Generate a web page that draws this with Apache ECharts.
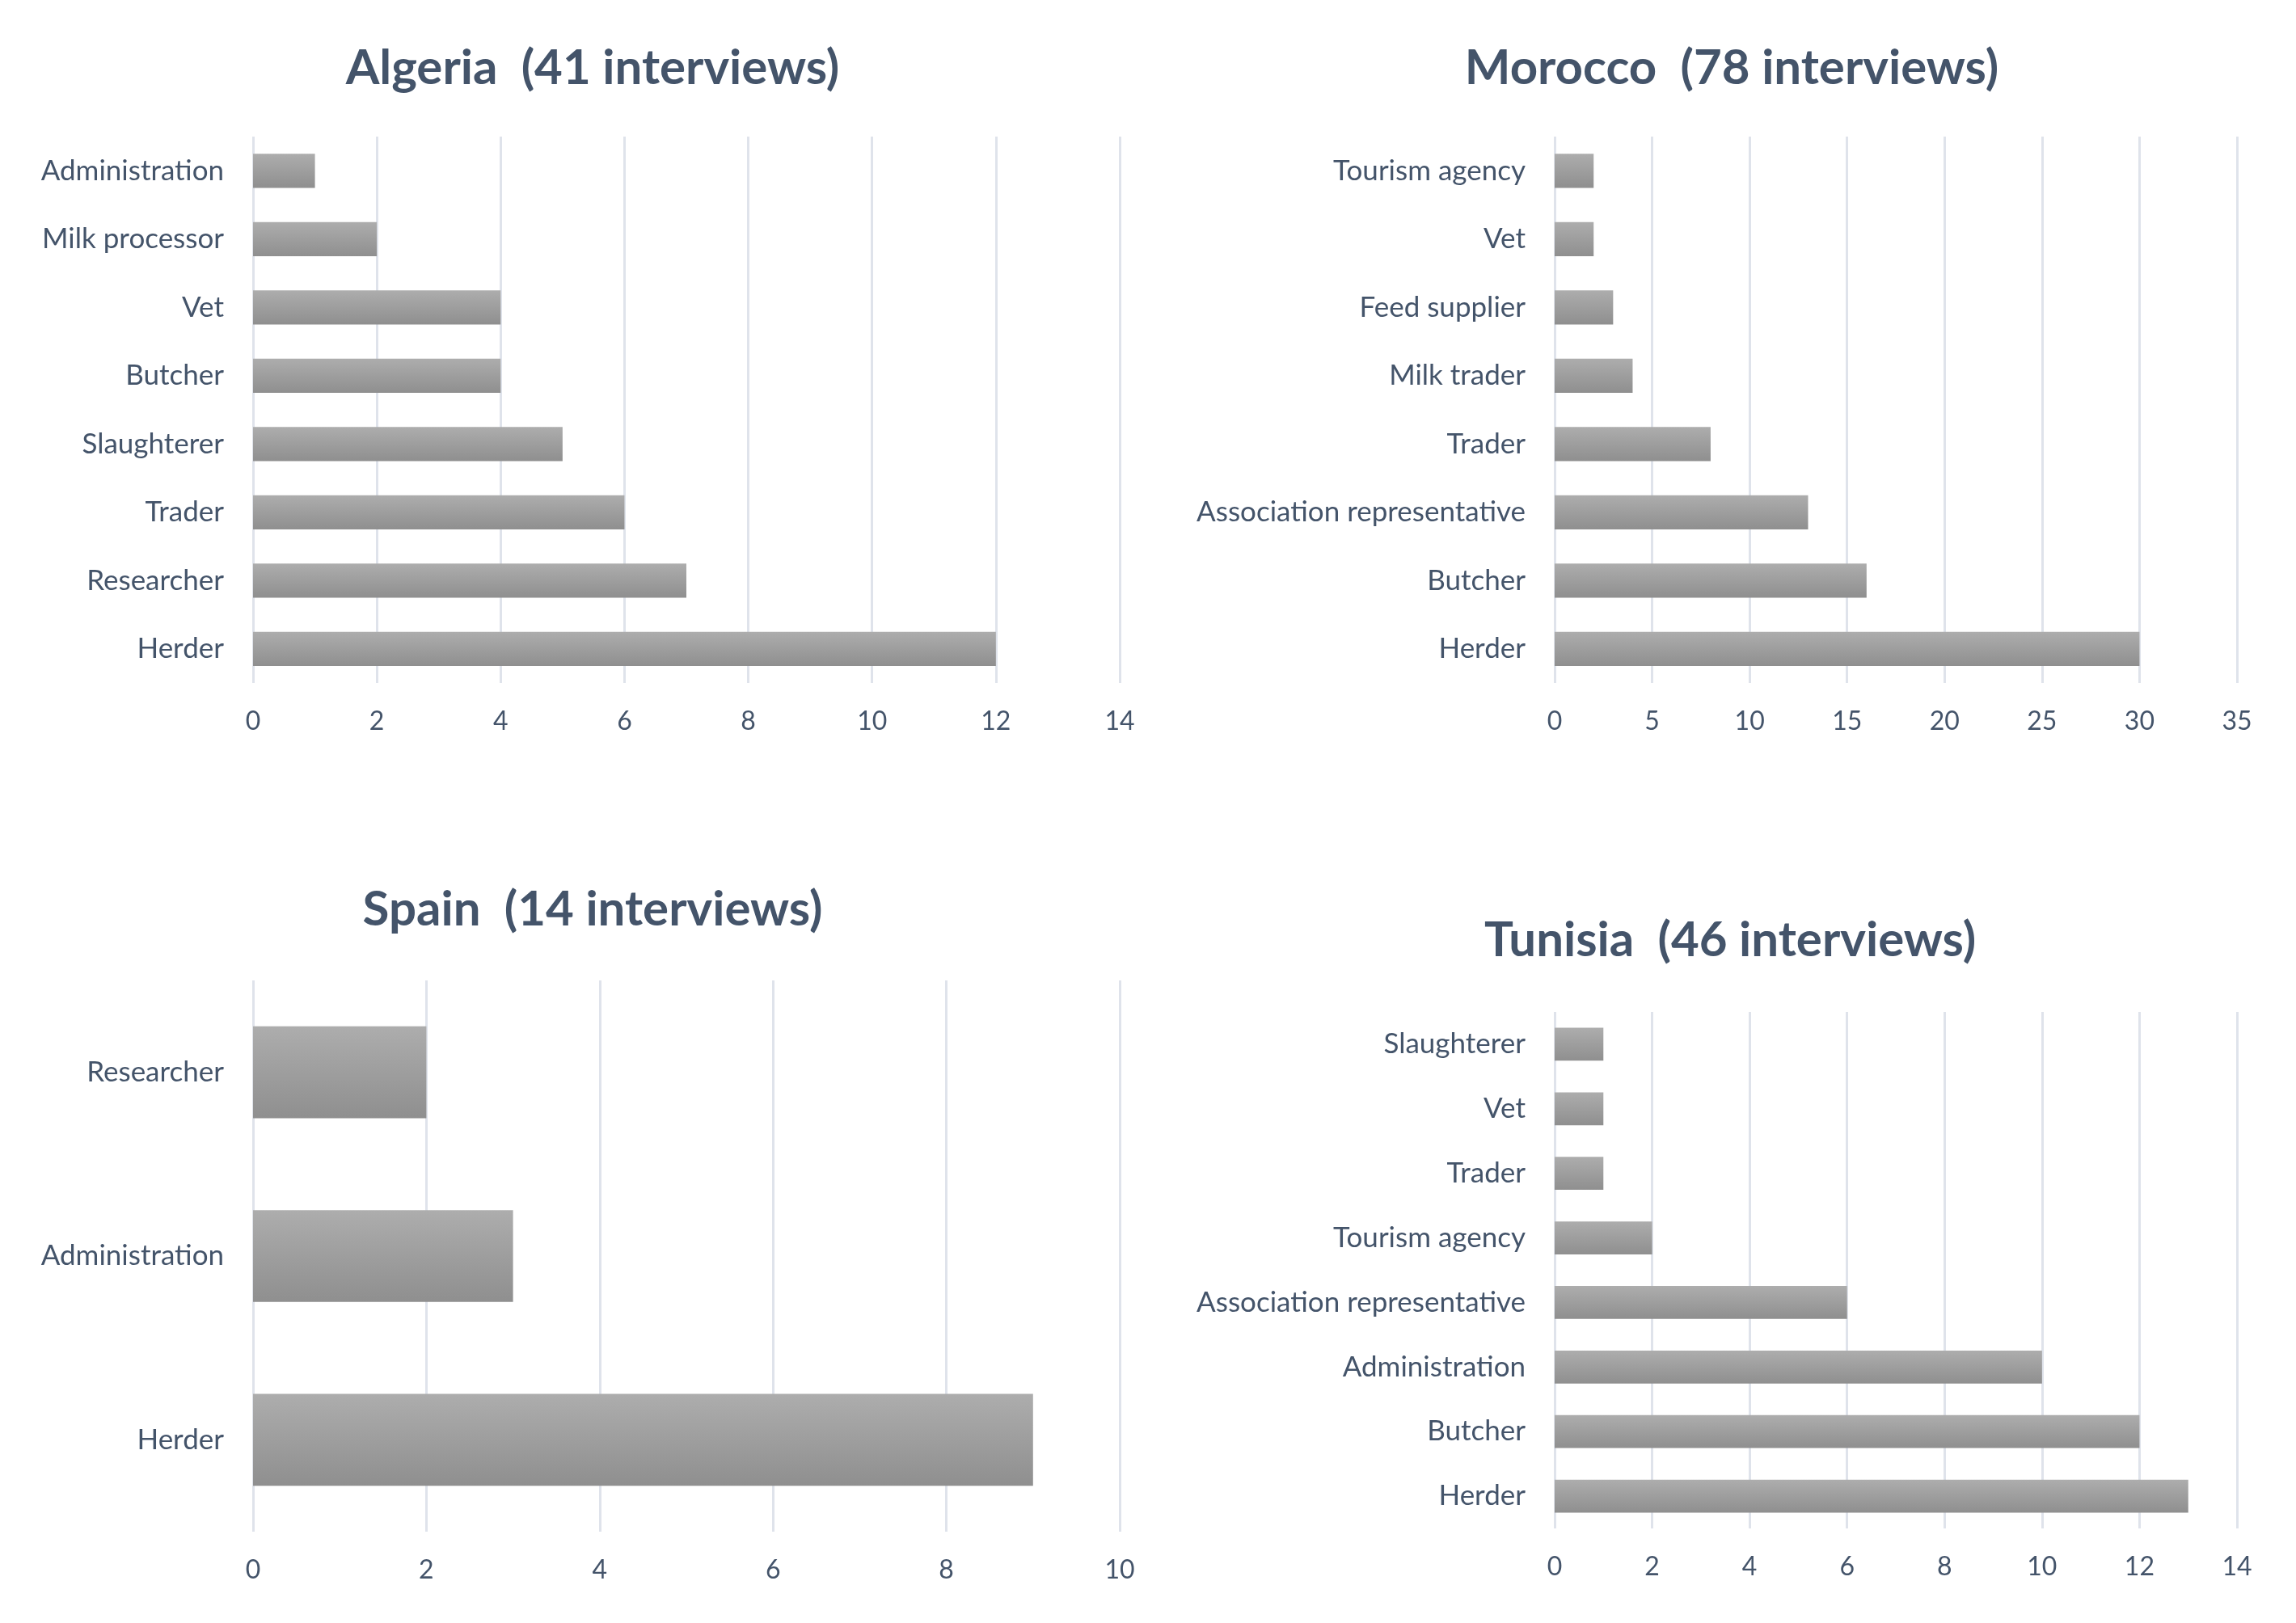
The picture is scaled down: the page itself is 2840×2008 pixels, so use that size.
<!DOCTYPE html>
<html>
<head>
<meta charset="utf-8">
<script src="https://cdn.jsdelivr.net/npm/echarts@6/dist/echarts.min.js"></script>
<style>
  html, body { margin: 0; padding: 0; background: #fff; }
  #chart { width: 2840px; height: 2008px; }
</style>
</head>
<body>
<div id="chart"></div>
<script>
  // categories listed top to bottom, as in the picture
  const algeriaCats = ['Administration', 'Milk processor', 'Vet', 'Butcher', 'Slaughterer', 'Trader', 'Researcher', 'Herder']
  const algeriaVals = [1, 2, 4, 4, 5, 6, 7, 12]

  const moroccoCats = ['Tourism agency', 'Vet', 'Feed supplier', 'Milk trader', 'Trader', 'Association representative', 'Butcher', 'Herder']
  const moroccoVals = [2, 2, 3, 4, 8, 13, 16, 30]

  const spainCats = ['Researcher', 'Administration', 'Herder']
  const spainVals = [2, 3, 9]

  const tunisiaCats = ['Slaughterer', 'Vet', 'Trader', 'Tourism agency', 'Association representative', 'Administration', 'Butcher', 'Herder']
  const tunisiaVals = [1, 1, 1, 2, 6, 10, 12, 13]

  const titles = ['Algeria  (41 interviews)', 'Morocco  (78 interviews)', 'Spain  (14 interviews)', 'Tunisia  (46 interviews)']
  const axisMax = [14, 35, 10, 14]
  const axisStep = [2, 5, 2, 2]

  const font = 'Lato, "Open Sans", sans-serif'
  const textColor = '#44546a'
  const gridColor = '#dfe3eb'

  const barFill = new echarts.graphic.LinearGradient(0, 0, 0, 1, [
    { offset: 0, color: '#adadad' },
    { offset: 1, color: '#8f8f8f' }
  ])

  const panels = [
    { cats: algeriaCats, vals: algeriaVals, grid: { left: 313, top: 169, width: 1072, height: 676 }, title: [733, 85], barWidth: '50%' },
    { cats: moroccoCats, vals: moroccoVals, grid: { left: 1923, top: 169, width: 844, height: 676 }, title: [2142, 85], barWidth: '50%' },
    { cats: spainCats, vals: spainVals, grid: { left: 313, top: 1213, width: 1072, height: 682 }, title: [733, 1126], barWidth: '50%' },
    { cats: tunisiaCats, vals: tunisiaVals, grid: { left: 1923, top: 1252, width: 844, height: 639 }, title: [2140, 1164], barWidth: '51%' }
  ]

  const chart = echarts.init(document.getElementById('chart'))

  chart.setOption({
    backgroundColor: '#ffffff',
    animation: false,
    title: panels.map(function(p, i) {
      return {
        text: titles[i],
        left: p.title[0],
        top: p.title[1],
        padding: 0,
        textAlign: 'center',
        textVerticalAlign: 'middle',
        textStyle: { fontFamily: font, fontWeight: 'bold', fontSize: 60, color: textColor }
      }
    }),
    grid: panels.map(function(p) { return p.grid }),
    xAxis: panels.map(function(p, i) {
      return {
        type: 'value',
        gridIndex: i,
        min: 0,
        max: axisMax[i],
        interval: axisStep[i],
        axisLine: { show: false },
        axisTick: { show: false },
        splitLine: { show: true, lineStyle: { color: gridColor, width: 3 } },
        axisLabel: { fontFamily: font, fontSize: 32, color: textColor, margin: 32 }
      }
    }),
    yAxis: panels.map(function(p, i) {
      return {
        type: 'category',
        gridIndex: i,
        inverse: true,
        data: p.cats,
        axisLine: { show: false },
        axisTick: { show: false },
        splitLine: { show: false },
        axisLabel: { fontFamily: font, fontSize: 35, color: textColor, margin: 36 }
      }
    }),
    series: panels.map(function(p, i) {
      return {
        type: 'bar',
        xAxisIndex: i,
        yAxisIndex: i,
        data: p.vals,
        barWidth: p.barWidth,
        itemStyle: { color: barFill },
        silent: true
      }
    })
  })
</script>
</body>
</html>
